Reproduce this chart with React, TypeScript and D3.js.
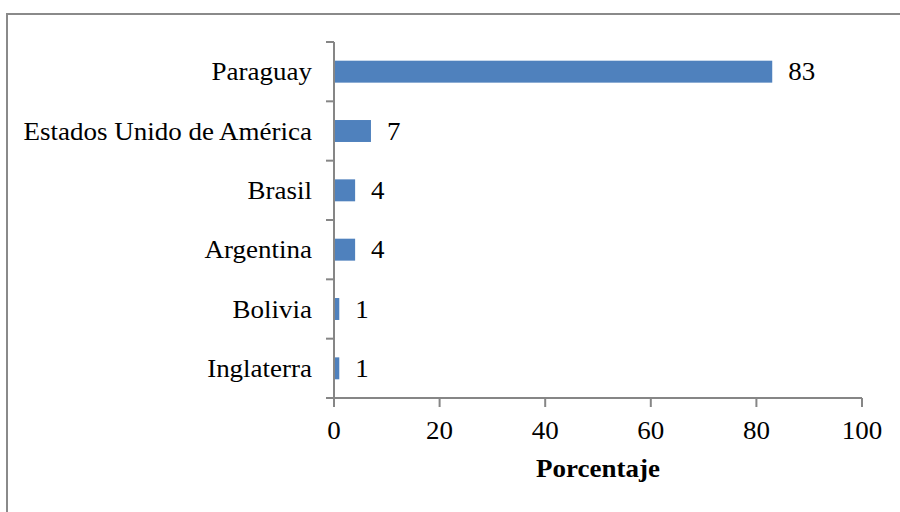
import React from "react";
import * as d3 from "d3";

const countries = [
  "Paraguay",
  "Estados Unido de América",
  "Brasil",
  "Argentina",
  "Bolivia",
  "Inglaterra",
];
const percentages = [83, 7, 4, 4, 1, 1];
const xTicks = [0, 20, 40, 60, 80, 100];
const xTitle = "Porcentaje";

const W = 900;
const H = 512;
const left = 334;
const right = 862;
const top = 42;
const bottom = 398;
const axisColor = "#868686";
const barColor = "#4F81BD";
const font = "'Liberation Serif', 'Times New Roman', serif";
const stretch = 1.08;

type LabelProps = {
  x: number;
  y: number;
  anchor?: "start" | "middle" | "end";
  bold?: boolean;
  dy?: string;
  children: React.ReactNode;
};

// Serif label, slightly widened horizontally around its anchor point
function Label({ x, y, anchor = "start", bold, dy, children }: LabelProps) {
  return (
    <text
      transform={`translate(${x},${y}) scale(${stretch},1)`}
      dy={dy}
      textAnchor={anchor}
      fontFamily={font}
      fontSize={25}
      fontWeight={bold ? "bold" : "normal"}
      fill="#000"
    >
      {children}
    </text>
  );
}

export default function App() {
  const x = d3.scaleLinear().domain([0, 100]).range([left, right]);
  const y = d3
    .scaleBand<string>()
    .domain(countries)
    .range([top, bottom])
    .paddingInner(0.63)
    .paddingOuter(0.315);
  const band = d3.scaleBand<string>().domain(countries).range([top, bottom]);
  const boundaries = d3.range(countries.length + 1).map(
    (i) => top + i * band.step()
  );

  return (
    <svg
      width={W}
      height={H}
      style={{ position: "absolute", left: 0, top: 0, background: "#fff" }}
    >
      {/* frame: visible on top and left only */}
      <line x1={7} x2={W} y1={14} y2={14} stroke="#8a8a8a" strokeWidth={2} />
      <line x1={7} x2={7} y1={13} y2={H} stroke="#8a8a8a" strokeWidth={2} />

      {/* bars */}
      {countries.map((c, i) => (
        <rect
          key={c}
          x={x(0)}
          y={y(c)}
          width={x(percentages[i]) - x(0)}
          height={y.bandwidth()}
          fill={barColor}
        />
      ))}

      {/* value labels */}
      {countries.map((c, i) => (
        <Label
          key={c}
          x={x(percentages[i]) + 16}
          y={(y(c) ?? 0) + y.bandwidth() / 2}
          dy="0.35em"
        >
          {percentages[i]}
        </Label>
      ))}

      {/* category axis */}
      <line x1={left} x2={left} y1={top} y2={bottom + 9} stroke={axisColor} strokeWidth={2} />
      {boundaries.map((b, i) => (
        <line key={i} x1={left - 8} x2={left} y1={b} y2={b} stroke={axisColor} strokeWidth={2} />
      ))}
      {countries.map((c) => (
        <Label
          key={c}
          x={312}
          y={(band(c) ?? 0) + band.bandwidth() / 2}
          dy="0.35em"
          anchor="end"
        >
          {c}
        </Label>
      ))}

      {/* value axis */}
      <line x1={left - 8} x2={right} y1={bottom} y2={bottom} stroke={axisColor} strokeWidth={2} />
      {xTicks.map((t) => (
        <g key={t}>
          <line x1={x(t)} x2={x(t)} y1={bottom} y2={bottom + 9} stroke={axisColor} strokeWidth={2} />
          <Label x={x(t)} y={bottom + 41} anchor="middle">
            {t}
          </Label>
        </g>
      ))}
      <Label x={(left + right) / 2} y={477} anchor="middle" bold>
        {xTitle}
      </Label>
    </svg>
  );
}
